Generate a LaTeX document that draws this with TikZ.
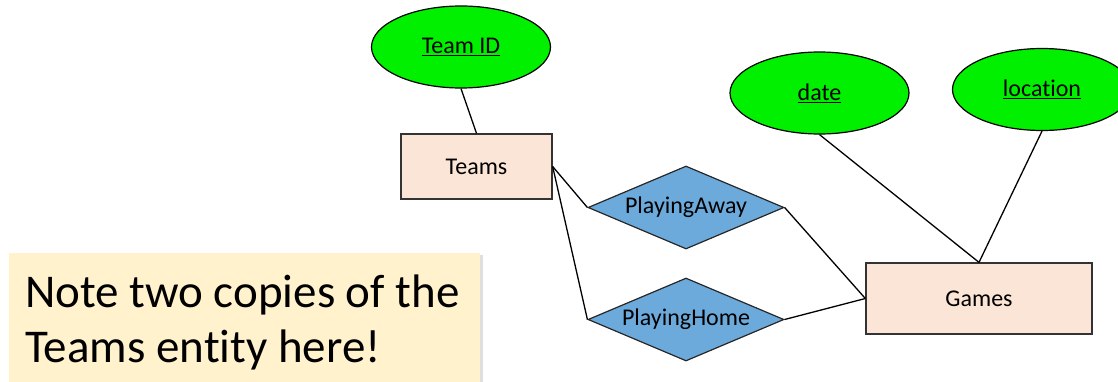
\documentclass[tikz,border=0pt]{standalone}
\usepackage{fontspec}
\setmainfont{Carlito}[Ligatures=NoCommon]
\usepackage{tikz}
\usetikzlibrary{shapes, shadows}
\definecolor{attrgreen}{RGB}{0,240,0}
\definecolor{entfill}{RGB}{251,229,214}
\definecolor{relfill}{RGB}{108,170,220}
\definecolor{notefill}{RGB}{255,242,204}
\tikzstyle{entity} = [rectangle, draw=black!80, fill=entfill, line width=1.3pt,
    minimum width=151pt, minimum height=65pt, inner sep=0pt]
\tikzstyle{attr} = [ellipse, draw, fill=attrgreen, line width=1.2pt,
    minimum width=179pt, minimum height=82pt, inner sep=0pt]
\tikzstyle{rel} = [diamond, draw=black!85, fill=relfill, line width=1.2pt,
    shape aspect=2.36, minimum width=196pt, minimum height=83pt, inner sep=0pt]

\begin{document}
\begin{tikzpicture}[
x=1pt, y=1pt,
font=\fontsize{24}{28}\selectfont,
link/.style = {draw, line width=1.3pt},
notebox/.style = {rectangle, fill=notefill, minimum width=471pt, minimum height=140pt,
    drop shadow={opacity=0.25, shadow xshift=3pt, shadow yshift=-2pt}}
                    ]
\clip (0,0) rectangle (1118,381);
% entities
\node [entity] (teams) at (476.5,214.5) {Teams};
\node [entity, minimum width=226pt, minimum height=71pt] (games) at (979,82.5) {Games};
% attributes
\node [attr] (teamid) at (461,334) {\underline{Team ID}};
\node [attr] (date) at (819.5,288) {\underline{date}};
\node [attr] (location) at (1042,291.5) {\underline{location}};
% relationships
\node [rel] (away) at (686,173.5) {PlayingAway};
\node [rel] (home) at (686,61.5) {PlayingHome};
% links
\draw [link] (teamid.south) -- (teams.north);
\draw [link] (teams.east) -- (away.west);
\draw [link] (teams.east) -- (home.west);
\draw [link] (away.east) -- (games.west);
\draw [link] (home.east) -- (games.west);
\draw [link] (date.south) -- (games.north);
\draw [link] (location.south) -- (games.north);
% note (base anchor sits on the last line)
\node [notebox, anchor=north west] (note) at (9,128) {};
\node [anchor=base west, align=left, inner sep=0pt,
    font=\fontsize{47}{55}\selectfont] (notetext) at (25,19)
    {Note two copies of the\\Teams entity here!};
\end{tikzpicture}
\end{document}
